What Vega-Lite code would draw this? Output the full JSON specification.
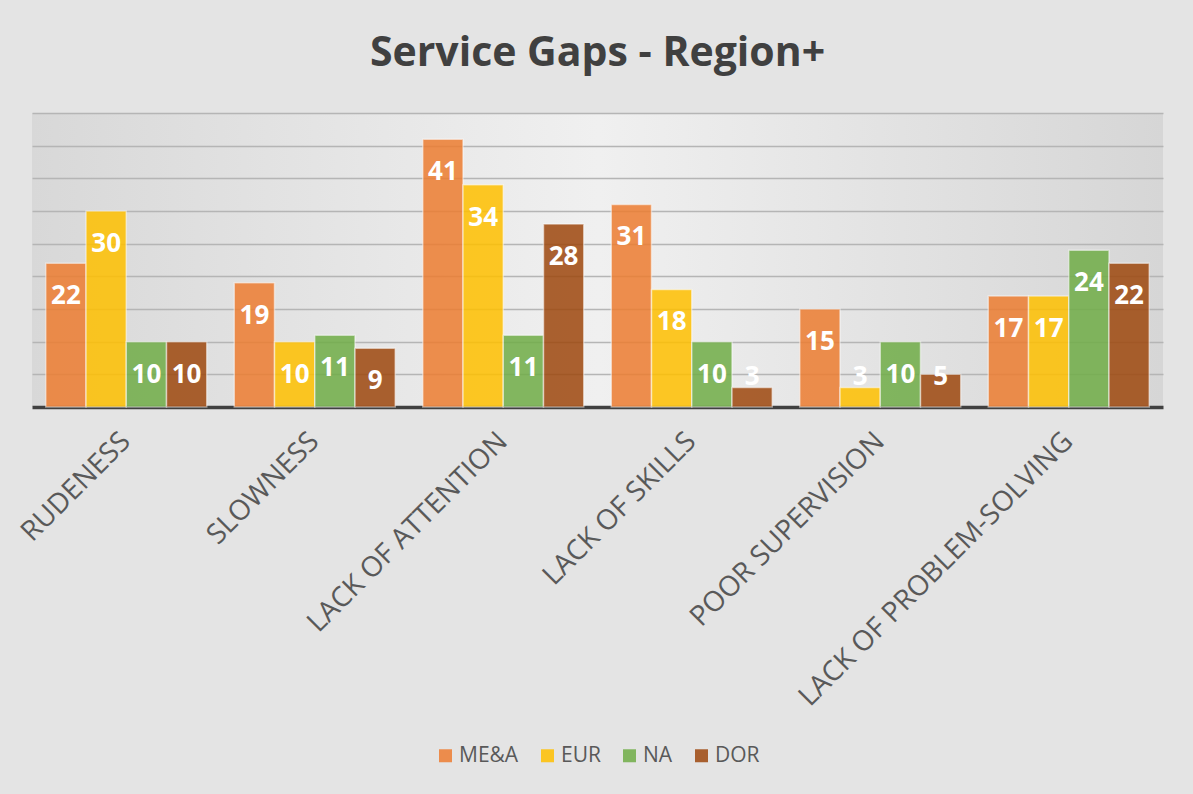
{
  "$schema": "https://vega.github.io/schema/vega-lite/v6.json",
  "width": 1131,
  "height": 294,
  "autosize": {"type": "none"},
  "padding": {"left": 32, "top": 113, "right": 30, "bottom": 387},
  "background": "#E4E4E4",
  "title": {
    "text": "Service Gaps - Region+",
    "font": "Open Sans",
    "fontSize": 41,
    "fontWeight": "bold",
    "color": "#404040",
    "anchor": "middle",
    "offset": 38
  },
  "data": {
    "values": [
      {"gap": "RUDENESS", "region": "ME&A", "value": 22},
      {"gap": "RUDENESS", "region": "EUR", "value": 30},
      {"gap": "RUDENESS", "region": "NA", "value": 10},
      {"gap": "RUDENESS", "region": "DOR", "value": 10},
      {"gap": "SLOWNESS", "region": "ME&A", "value": 19},
      {"gap": "SLOWNESS", "region": "EUR", "value": 10},
      {"gap": "SLOWNESS", "region": "NA", "value": 11},
      {"gap": "SLOWNESS", "region": "DOR", "value": 9},
      {"gap": "LACK OF ATTENTION", "region": "ME&A", "value": 41},
      {"gap": "LACK OF ATTENTION", "region": "EUR", "value": 34},
      {"gap": "LACK OF ATTENTION", "region": "NA", "value": 11},
      {"gap": "LACK OF ATTENTION", "region": "DOR", "value": 28},
      {"gap": "LACK OF SKILLS", "region": "ME&A", "value": 31},
      {"gap": "LACK OF SKILLS", "region": "EUR", "value": 18},
      {"gap": "LACK OF SKILLS", "region": "NA", "value": 10},
      {"gap": "LACK OF SKILLS", "region": "DOR", "value": 3},
      {"gap": "POOR SUPERVISION", "region": "ME&A", "value": 15},
      {"gap": "POOR SUPERVISION", "region": "EUR", "value": 3},
      {"gap": "POOR SUPERVISION", "region": "NA", "value": 10},
      {"gap": "POOR SUPERVISION", "region": "DOR", "value": 5},
      {"gap": "LACK OF PROBLEM-SOLVING", "region": "ME&A", "value": 17},
      {"gap": "LACK OF PROBLEM-SOLVING", "region": "EUR", "value": 17},
      {"gap": "LACK OF PROBLEM-SOLVING", "region": "NA", "value": 24},
      {"gap": "LACK OF PROBLEM-SOLVING", "region": "DOR", "value": 22}
    ]
  },
  "encoding": {
    "x": {
      "field": "gap",
      "type": "nominal",
      "sort": ["RUDENESS", "SLOWNESS", "LACK OF ATTENTION", "LACK OF SKILLS", "POOR SUPERVISION", "LACK OF PROBLEM-SOLVING"],
      "scale": {"paddingInner": 0.146, "paddingOuter": 0.073},
      "axis": {
        "title": null,
        "labelAngle": -45,
        "labelAlign": "right",
        "labelBaseline": "middle",
        "labelFont": "Open Sans",
        "labelFontSize": 28,
        "labelColor": "#595959",
        "labelPadding": 30,
        "labelLimit": 0,
        "labelOverlap": false,
        "ticks": false,
        "domainColor": "#404040",
        "domainWidth": 3.3,
        "grid": false
      }
    },
    "xOffset": {
      "field": "region",
      "type": "nominal",
      "sort": ["ME&A", "EUR", "NA", "DOR"],
      "scale": {"paddingInner": 0, "paddingOuter": 0}
    },
    "y": {
      "field": "value",
      "type": "quantitative",
      "scale": {"domain": [0, 45], "nice": false},
      "axis": {
        "title": null,
        "labels": false,
        "ticks": false,
        "domain": false,
        "values": [5, 10, 15, 20, 25, 30, 35, 40, 45],
        "grid": true,
        "gridColor": "#B5B5B5",
        "gridWidth": 1.5
      }
    }
  },
  "layer": [
    {
      "mark": {"type": "bar", "opacity": 0.85, "stroke": "#FFFFFF", "strokeOpacity": 0.55, "strokeWidth": 1.5},
      "encoding": {
        "color": {
          "field": "region",
          "type": "nominal",
          "scale": {"domain": ["ME&A", "EUR", "NA", "DOR"], "range": ["#ED7D31", "#FFC000", "#70AD47", "#9E480E"]},
          "legend": {
            "title": null,
            "orient": "bottom",
            "direction": "horizontal",
            "symbolType": "square",
            "symbolSize": 169,
            "symbolOpacity": 0.85,
            "symbolStrokeWidth": 0,
            "labelFont": "Open Sans",
            "labelFontSize": 21,
            "labelColor": "#595959",
            "labelOffset": 3,
            "columnPadding": 18,
            "offset": 33
          }
        }
      }
    },
    {
      "transform": [{"filter": "datum.value >= 8"}],
      "mark": {"type": "text", "color": "#FFFFFF", "font": "Open Sans", "fontSize": 26, "fontWeight": "bold", "baseline": "middle", "dy": 33},
      "encoding": {
        "text": {"field": "value", "type": "quantitative"}
      }
    },
    {
      "transform": [{"filter": "datum.value < 8"}],
      "mark": {"type": "text", "color": "#FFFFFF", "font": "Open Sans", "fontSize": 26, "fontWeight": "bold", "baseline": "middle", "dy": -30},
      "encoding": {
        "y": {"datum": 0},
        "text": {"field": "value", "type": "quantitative"}
      }
    }
  ],
  "config": {
    "legend": {"layout": {"bottom": {"anchor": "middle"}}},
    "view": {
      "stroke": null,
      "fill": {
        "gradient": "linear",
        "x1": 0, "y1": 0, "x2": 1, "y2": 0,
        "stops": [
          {"offset": 0, "color": "#D8D8D8"},
          {"offset": 0.5, "color": "#F0F0F0"},
          {"offset": 1, "color": "#D6D6D6"}
        ]
      }
    }
  }
}
